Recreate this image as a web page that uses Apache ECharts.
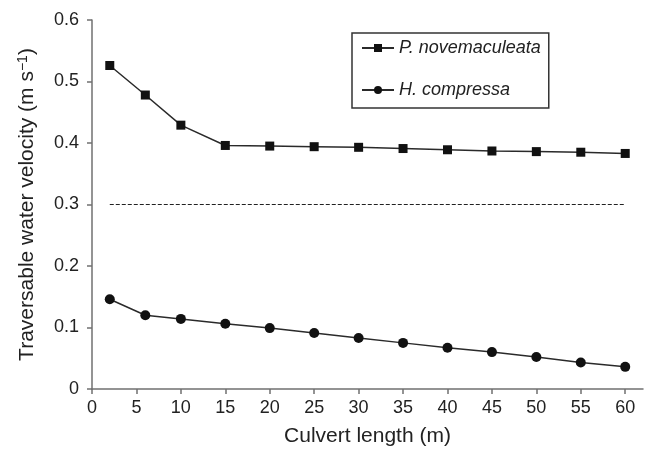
<!DOCTYPE html>
<html>
<head>
<meta charset="utf-8">
<script src="https://cdn.jsdelivr.net/npm/echarts@6/dist/echarts.min.js"></script>
<style>
	html, body { margin: 0; padding: 0; background: #fff; }
	#chart { width: 646px; height: 452px; }
</style>
</head>
<body>
<div id="chart"></div>
<script>
// culvert lengths (m)
var lengths = [2, 6, 10, 15, 20, 25, 30, 35, 40, 45, 50, 55, 60];
// traversable velocity, m/s
var novemaculeata = [0.526, 0.478, 0.429, 0.396, 0.395, 0.394, 0.393, 0.391, 0.389, 0.387, 0.386, 0.385, 0.383];
var compressa = [0.146, 0.120, 0.114, 0.106, 0.099, 0.091, 0.083, 0.075, 0.067, 0.060, 0.052, 0.043, 0.036];
// dashed reference line
var refX = [2, 60];
var refY = [0.3, 0.3];

var font = 'Liberation Sans, Arial, sans-serif';

function pairs(xs, ys){
	var out = [];
	xs.forEach(function(x, i){
		out.push([x, ys[i]]);
	});
	return out;
}

var myChart = echarts.init(document.getElementById('chart'));

var option = {
	animation: false,
	grid: {
		left: 92,
		right: 3,
		top: 20,
		bottom: 60
	},
	legend: {
		data: ['P. novemaculeata', 'H. compressa'],
		orient: 'vertical',
		left: 352,
		top: 33,
		padding: [5, 8, 8, 9],
		itemWidth: 32,
		itemHeight: 10,
		itemGap: 22,
		borderColor: '#333',
		borderWidth: 1.5,
		textStyle: {
			fontFamily: font,
			fontSize: 18,
			fontStyle: 'italic',
			color: '#222',
			lineHeight: 20
		}
	},
	xAxis: {
		type: 'value',
		min: 0,
		max: 62,
		interval: 5,
		name: 'Culvert length (m)',
		nameLocation: 'middle',
		nameGap: 37,
		nameTextStyle: { fontFamily: font, fontSize: 21, color: '#222' },
		axisLine: { lineStyle: { color: '#707070', width: 1.5 } },
		axisTick: { length: 5, lineStyle: { color: '#707070', width: 1.5 } },
		axisLabel: { fontFamily: font, fontSize: 18, color: '#222', margin: 10 },
		splitLine: { show: false }
	},
	yAxis: {
		type: 'value',
		min: 0,
		max: 0.6,
		interval: 0.1,
		name: 'Traversable water velocity (m s{sup|\u22121})',
		nameLocation: 'middle',
		nameGap: 54,
		nameTextStyle: {
			fontFamily: font,
			fontSize: 21,
			color: '#222',
			rich: {
				sup: { fontFamily: font, fontSize: 14, color: '#222', verticalAlign: 'top', padding: [0, 0, 8, 0] }
			}
		},
		axisLine: { show: true, lineStyle: { color: '#707070', width: 1.5 } },
		axisTick: { show: true, length: 5, lineStyle: { color: '#707070', width: 1.5 } },
		axisLabel: {
			fontFamily: font,
			fontSize: 18,
			color: '#222',
			margin: 13,
			formatter: function(v){ return v === 0 ? '0' : v.toFixed(1); }
		},
		splitLine: { show: false }
	},
	series: [
		{
			name: 'P. novemaculeata',
			type: 'line',
			symbol: 'rect',
			symbolSize: 9,
			data: pairs(lengths, novemaculeata),
			lineStyle: { color: '#2a2a2a', width: 1.5 },
			itemStyle: { color: '#111' }
		},
		{
			name: 'H. compressa',
			type: 'line',
			symbol: 'circle',
			symbolSize: 10,
			data: pairs(lengths, compressa),
			lineStyle: { color: '#2a2a2a', width: 1.5 },
			itemStyle: { color: '#111' }
		},
		{
			name: 'ref',
			type: 'line',
			symbol: 'none',
			data: pairs(refX, refY),
			lineStyle: { color: '#222', width: 1.2, type: [4, 2] }
		}
	]
};

myChart.setOption(option);
</script>
</body>
</html>
